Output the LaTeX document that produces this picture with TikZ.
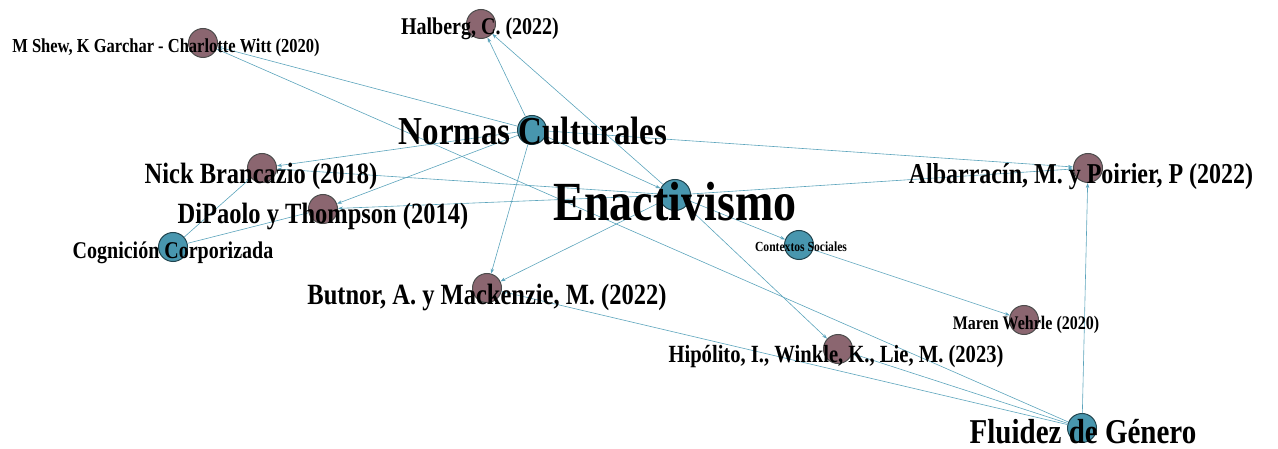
\documentclass[tikz,border=0pt]{standalone}
\usepackage{fontspec}
\usepackage{graphicx}
\setmainfont{Liberation Serif}
\usetikzlibrary{arrows.meta}
\definecolor{autor}{RGB}{139,102,112}
\definecolor{concepto}{RGB}{72,150,174}
\definecolor{arista}{RGB}{92,164,188}
\tikzset{
  autor/.style={circle, draw=black!70, line width=1pt, fill=autor, minimum size=29pt, inner sep=0pt},
  concepto/.style={circle, draw=concepto!45!black, line width=1pt, fill=concepto, minimum size=29pt, inner sep=0pt},
  arista/.style={draw=arista, line width=0.6pt, -{Stealth[length=5pt,width=3.5pt]}},
  etiqueta/.style={anchor=base, inner sep=0pt, text=black}
}
\newcommand{\rotulo}[2]{\scalebox{1}[1.2]{\fontsize{#1}{#1}\selectfont\bfseries #2}}

\begin{document}
\begin{tikzpicture}[x=1pt, y=-1pt]
\useasboundingbox (0,0) rectangle (1278,449);
% nodos
\node[concepto, minimum size=31pt] (enact) at (675,195) {};
\node[concepto] (norm) at (532,130) {};
\node[concepto] (cogn) at (173,247) {};
\node[concepto] (cont) at (799,245) {};
\node[concepto] (flui) at (1082,428) {};
\node[autor] (shew) at (203,43) {};
\node[autor] (halb) at (481,24) {};
\node[autor] (nick) at (262,168) {};
\node[autor] (dipa) at (323,209) {};
\node[autor] (albar) at (1088,168) {};
\node[autor] (butn) at (487,288) {};
\node[autor] (mare) at (1024,320) {};
\node[autor] (hipo) at (838,349) {};
% aristas
\foreach \a/\b in {norm/halb, norm/shew, norm/albar, norm/nick, norm/dipa, norm/butn, norm/enact,
  enact/halb, enact/nick, enact/dipa, enact/albar, enact/butn, enact/hipo, enact/cont,
  cont/mare, cogn/nick, cogn/dipa,
  flui/albar, flui/shew, flui/butn, flui/hipo}
  \draw[arista] (\a) -- (\b);
% etiquetas
\node[etiqueta] (tshew) at (166,52.6) {\rotulo{16.5}{M Shew, K Garchar - Charlotte Witt (2020)}};
\node[etiqueta] (thalb) at (480,35) {\rotulo{20}{Halberg, C. (2022)}};
\node[etiqueta] (tnorm) at (533,145) {\rotulo{33}{Normas Culturales}};
\node[etiqueta] (tnick) at (261,184) {\rotulo{24.5}{Nick Brancazio (2018)}};
\node[etiqueta] (tdipa) at (323,224) {\rotulo{24.5}{DiPaolo y Thompson (2014)}};
\node[etiqueta] (tcogn) at (173,259) {\rotulo{20}{Cognición Corporizada}};
\node[etiqueta] (tenact) at (675,221) {\rotulo{46}{Enactivismo}};
\node[etiqueta] (talbar) at (1081,184) {\rotulo{24}{Albarracín, M. y Poirier, P (2022)}};
\node[etiqueta] (tcont) at (801,251.6) {\rotulo{11.6}{Contextos Sociales}};
\node[etiqueta] (tbutn) at (487,305) {\rotulo{24.5}{Butnor, A. y Mackenzie, M. (2022)}};
\node[etiqueta] (tmare) at (1026,329.4) {\rotulo{16}{Maren Wehrle (2020)}};
\node[etiqueta] (thipo) at (836,362) {\rotulo{20.6}{Hipólito, I., Winkle, K., Lie, M. (2023)}};
\node[etiqueta] (tflui) at (1083,443.6) {\rotulo{29}{Fluidez de Género}};
\end{tikzpicture}
\end{document}
